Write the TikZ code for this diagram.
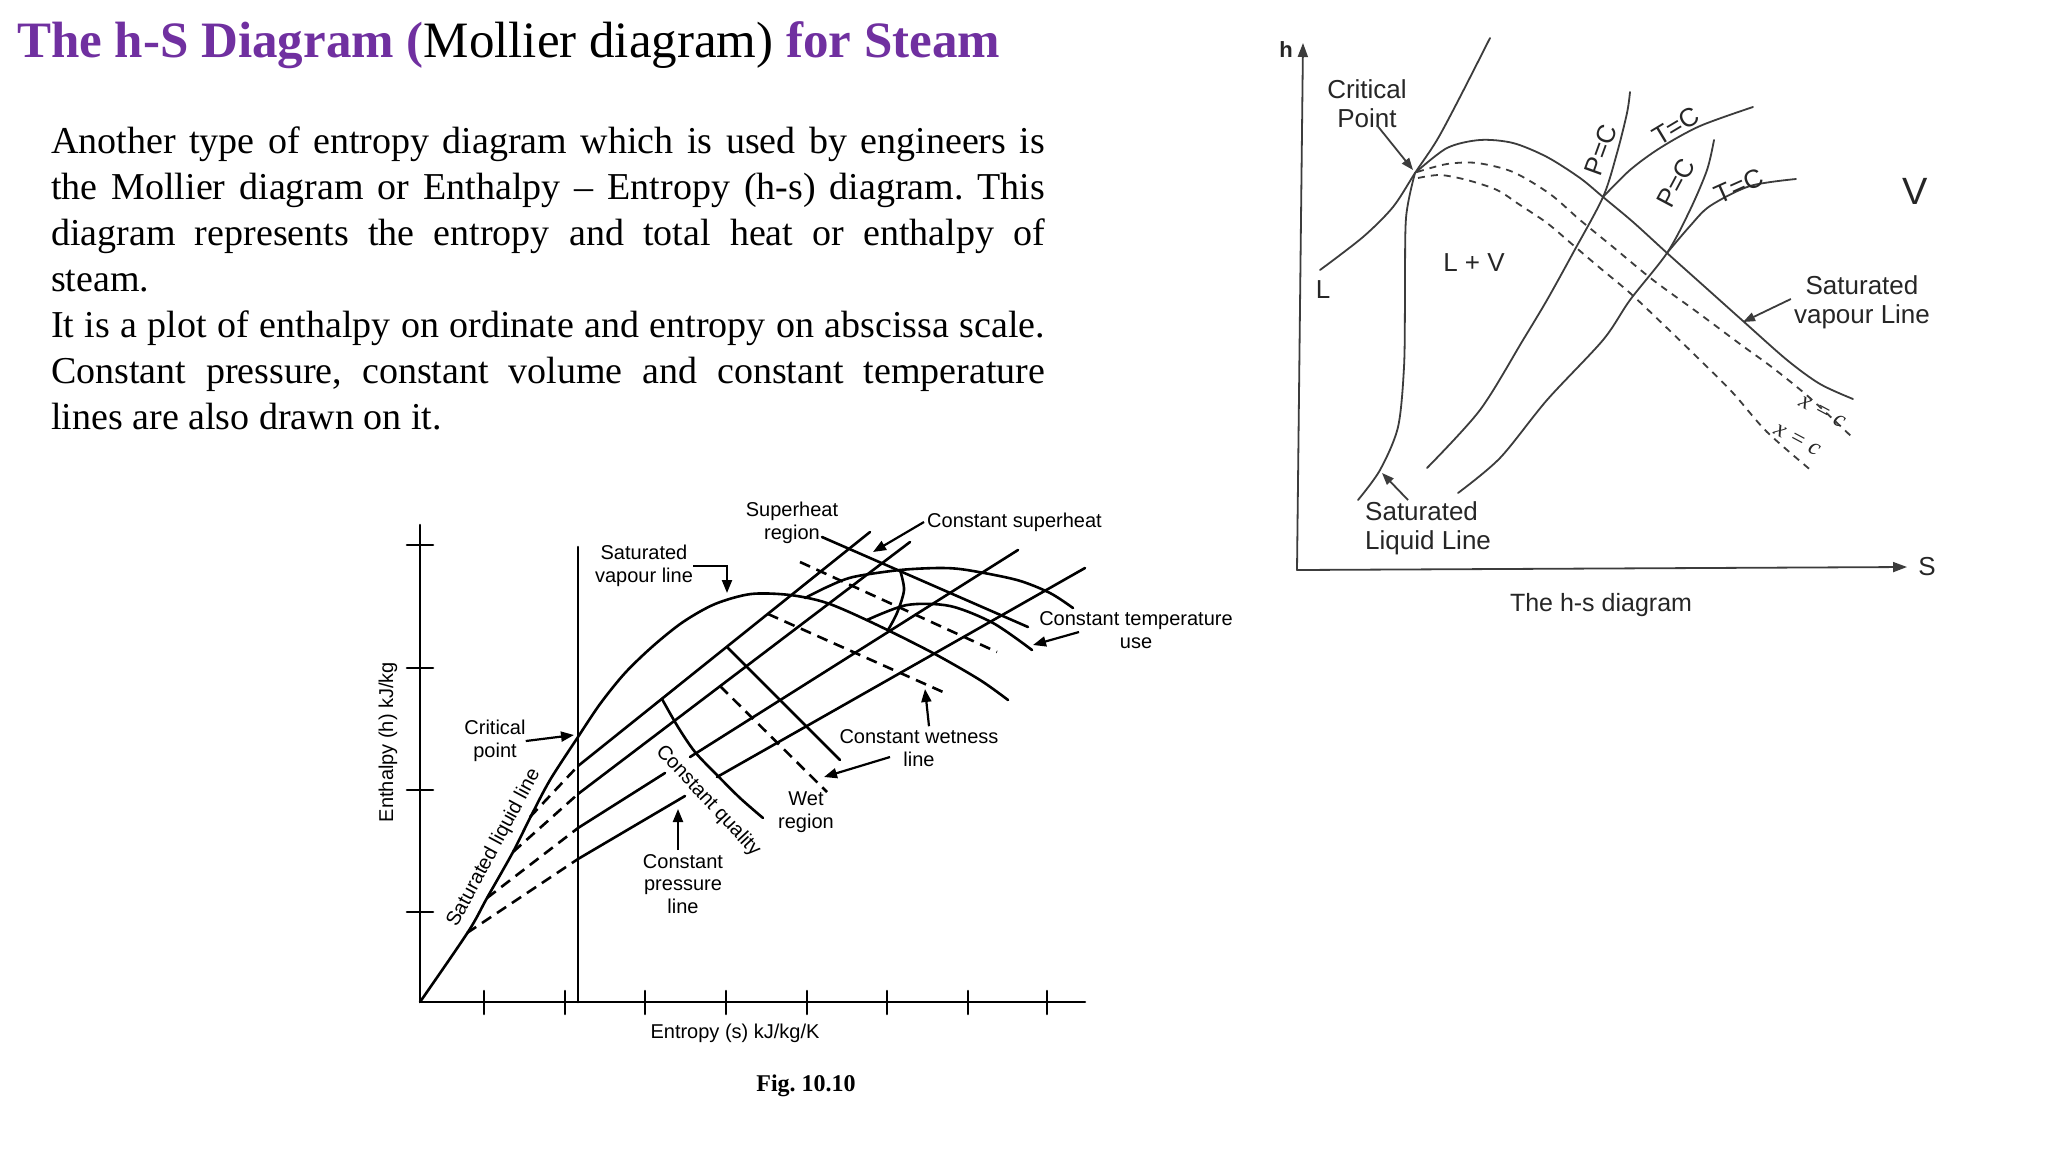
\documentclass[tikz,border=0pt]{standalone}
\usepackage{fontspec}
\setmainfont{Liberation Serif}
\newfontfamily\lsans{Liberation Sans}
\usetikzlibrary{arrows.meta}
\definecolor{tpurple}{RGB}{112,48,160}
\definecolor{rgray}{RGB}{60,60,60}
\frenchspacing
\begin{document}
\begin{tikzpicture}[x=1pt,y=-1pt,
  lc/.style={line width=2.6pt, line join=round, line cap=round},
  ldash/.style={line width=2.6pt, dash pattern=on 11pt off 7pt},
  larr/.style={line width=2.2pt, -{Triangle[length=13pt,width=10pt]}},
  ltxt/.style={font=\lsans\fontsize{20}{23}\selectfont, inner sep=0pt, align=center},
  rc/.style={line width=1.8pt, draw=rgray, line cap=round},
  rdash/.style={line width=1.8pt, draw=rgray, dash pattern=on 7pt off 6pt},
  rarr/.style={line width=1.8pt, draw=rgray, -{Triangle[length=12pt,width=9pt]}},
  rtxt/.style={font=\lsans\fontsize{26}{29}\selectfont, text=black!85, inner sep=0pt, align=center},
  body/.style={font=\fontsize{38}{46}\selectfont, inner sep=0pt, anchor=base west},
]
\fill[white] (0,0) rectangle (2048,1152);
\useasboundingbox (0,0) rectangle (2048,1152);

% ---------- title and text ----------
\node[anchor=base west, inner sep=0pt, font=\fontsize{51}{60}\selectfont] (title) at (17,57)
  {\textcolor{tpurple}{\bfseries The h-S Diagram (}Mollier diagram)\textcolor{tpurple}{\bfseries\ for Steam}};
\node[body] (b1) at (51,153) {\makebox[994pt][s]{Another type of entropy diagram which is used by engineers is}};
\node[body] (b2) at (51,199) {\makebox[994pt][s]{the Mollier diagram or Enthalpy -- Entropy (h-s) diagram. This}};
\node[body] (b3) at (51,245) {\makebox[994pt][s]{diagram represents the entropy and total heat or enthalpy of}};
\node[body] (b4) at (51,291) {steam.};
\node[body] (b5) at (51,337) {\makebox[994pt][s]{It is a plot of enthalpy on ordinate and entropy on abscissa scale.}};
\node[body] (b6) at (51,383) {\makebox[994pt][s]{Constant pressure, constant volume and constant temperature}};
\node[body] (b7) at (51,429) {lines are also drawn on it.};

% ---------- left chart ----------
\draw[lc] (420,525) -- (420,1002) -- (1085,1002);
\foreach \y in {545,668,790,912} \draw[lc] (407,\y) -- (433,\y);
\foreach \x in {484,565,645,726,807,887,968,1047} \draw[lc] (\x,991) -- (\x,1014);
\draw[lc] (578,547) -- (578,1002);
% saturated liquid line
\draw[lc] plot[smooth] coordinates {(420,1002) (468,932) (487,898) (513,852) (530,818) (550,780) (578,737)};
% saturated vapour line (dome)
\draw[lc] plot[smooth] coordinates {(578,737) (600,704) (625,673) (653,646) (683,622) (715,604) (751,594) (790,595) (827,603) (873,623) (933,653) (980,680) (1008,700)};
% constant pressure lines
\draw[lc] (578,766) -- (870,532);
\draw[lc] (578,794) -- (910,542);
\draw[lc] (578,828) -- (665,773);
\draw[lc] (690,757) -- (1018,550);
\draw[lc] (578,859) -- (685,796);
\draw[lc] (717,777) -- (1085,568);
\draw[ldash] (530,817) -- (578,766);
\draw[ldash] (513,852) -- (578,794);
\draw[ldash] (487,898) -- (578,828);
\draw[ldash] (467,933) -- (578,859);
% constant quality
\draw[lc] plot[smooth] coordinates {(662,699) (678,727) (695,752) (717,775) (740,798) (763,818)};
\draw[lc] (727,647) -- (840,760);
% constant wetness (dashed)
\draw[ldash] (720,686) -- (827,792);
\draw[ldash] (768,614) -- (943,692);
\draw[ldash] (800,562) -- (997,652);
% superheat lines
\draw[lc] (822,537) -- (1028,627);
\draw[lc] plot[smooth] coordinates {(805,598) (827,587) (853,577) (900,570) (940,568) (967,570) (1017,580) (1050,593) (1073,608)};
\draw[lc] plot[smooth] coordinates {(867,620) (907,605) (950,606) (993,623) (1032,650)};
\draw[lc] plot[smooth] coordinates {(900,570) (904,590) (897,613) (888,630)};

% left labels
\node[ltxt] (sup) at (792,523) {Superheat\\region};
\node[ltxt] (svl) at (644,566) {Saturated\\vapour line};
\node[ltxt] (cpl) at (495,741) {Critical\\point};
\node[ltxt, anchor=west] (csh) at (927,522) {Constant superheat};
\node[ltxt] (ctu) at (1136,630) {Constant temperature\\use};
\node[ltxt] (cwl) at (919,748) {Constant wetness\\line};
\node[ltxt] (wet) at (806,812) {Wet\\region};
\node[ltxt, font=\lsans\fontsize{20}{22.5}\selectfont] (cpr) at (683,884) {Constant\\pressure\\line};
\node[ltxt, rotate=-47] (cq) at (708,801) {Constant quality};
\node[ltxt, rotate=61.7] (sll) at (494,848) {Saturated liquid line};
\node[ltxt, rotate=90] (ent) at (388,742) {Enthalpy (h) kJ/kg};
\node[ltxt] (entr) at (735,1033) {Entropy (s) kJ/kg/K};
\node[inner sep=0pt, font=\bfseries\fontsize{24}{28}\selectfont] (fig) at (806,1086) {Fig. 10.10};

\coordinate (svtip) at (727,593);
\coordinate (cptip) at (574,735);
\coordinate (cshtip) at (873,552);
\coordinate (ctufrom) at (1079,632);
\coordinate (ctutip) at (1033,645);
\coordinate (cwtip1) at (925,689);
\coordinate (cwfrom2) at (890,757);
\coordinate (cwtip2) at (824,777);
\coordinate (cprtip) at (678,809);
\draw[larr] (svl.east) -| (svtip);
\draw[larr] (cpl.east) -- (cptip);
\draw[larr] ([xshift=-3pt]csh.west) -- (cshtip);
\draw[larr] (ctufrom) -- (ctutip);
\draw[larr] ([xshift=10pt,yshift=3pt]cwl.north) -- (cwtip1);
\draw[larr] (cwfrom2) -- (cwtip2);
\draw[larr] ([xshift=-5pt,yshift=4pt]cpr.north) -- (cprtip);

% ---------- right chart ----------
\draw[rc, -{Triangle[length=14pt,width=10pt]}] (1297,570) -- (1303,43);
\draw[rc, -{Triangle[length=14pt,width=10pt]}] (1297,570) -- (1907,567);
\node[rtxt, font=\lsans\bfseries\fontsize{22}{26}\selectfont] (hlab) at (1286,50) {h};
\node[rtxt] (slab) at (1927,567) {S};
% saturated liquid line
\draw[rc] plot[smooth] coordinates {(1358,500) (1380,470) (1398,427) (1404,367) (1405,300) (1406,218) (1415,173)};
% L curve through critical point
\draw[rc] plot[smooth] coordinates {(1320,270) (1363,237) (1393,207) (1415,173) (1437,140) (1460,97) (1490,38)};
% saturated vapour line
\draw[rc] plot[smooth] coordinates {(1415,173) (1447,148) (1480,140) (1513,143) (1547,157) (1580,178) (1603,197) (1633,222) (1667,253) (1705,287) (1743,321) (1787,360) (1820,384) (1853,399)};
% x = C lines
\draw[rdash] plot[smooth] coordinates {(1417,172) (1447,164) (1477,163) (1513,172) (1550,194) (1580,220) (1613,247) (1653,280) (1697,312) (1740,344) (1773,368) (1810,398) (1853,438)};
\draw[rdash] plot[smooth] coordinates {(1418,178) (1440,175) (1467,180) (1497,190) (1520,205) (1547,223) (1573,245) (1600,268) (1630,293) (1667,328) (1700,360) (1733,393) (1767,432) (1813,472)};
% P = C lines
\draw[rc] plot[smooth] coordinates {(1427,468) (1480,410) (1523,340) (1547,300) (1573,253) (1603,197) (1617,153) (1627,113) (1630,92)};
\draw[rc] plot[smooth] coordinates {(1458,493) (1500,458) (1547,400) (1603,340) (1630,300) (1667,253) (1690,210) (1707,170) (1714,140)};
% T = C lines
\draw[rc] plot[smooth] coordinates {(1603,197) (1630,170) (1660,148) (1700,126) (1753,107)};
\draw[rc] plot[smooth] coordinates {(1667,253) (1690,226) (1710,206) (1750,186) (1796,179)};

\node[rtxt] (rcp) at (1367,104) {Critical\\Point};
\node[rtxt] (rL) at (1323,290) {L};
\node[rtxt] (rLV) at (1474,263) {L + V};
\node[rtxt, font=\lsans\fontsize{38}{40}\selectfont] (rV) at (1915,191) {V};
\node[rtxt, rotate=70] (pc1) at (1601,150) {P=C};
\node[rtxt, rotate=62] (pc2) at (1676,183) {P=C};
\node[rtxt, rotate=31] (tc1) at (1676,126) {T=C};
\node[rtxt, rotate=24] (tc2) at (1739,186) {T=C};
\node[rtxt] (rsv) at (1862,302) {Saturated\\vapour Line};
\node[rtxt, align=left, anchor=west] (rsl) at (1365,528) {Saturated\\Liquid Line};
\node[rtxt, rotate=-28, font=\itshape\fontsize{24}{26}\selectfont] (xc1) at (1822,412) {x = c};
\node[rtxt, rotate=-28, font=\itshape\fontsize{24}{26}\selectfont] (xc2) at (1797,440) {x = c};
\node[rtxt, font=\lsans\fontsize{25}{28}\selectfont] (cap) at (1601,605) {The h-s diagram};

\coordinate (rcptip) at (1413,170);
\coordinate (rsvtip) at (1743,322);
\coordinate (rslfrom) at (1408,500);
\coordinate (rsltip) at (1382,473);
\draw[rarr] ([xshift=10pt,yshift=3pt]rcp.south) -- (rcptip);
\draw[rarr] ([xshift=-3pt,yshift=3pt]rsv.west) -- (rsvtip);
\draw[rarr] (rslfrom) -- (rsltip);
\end{tikzpicture}
\end{document}
